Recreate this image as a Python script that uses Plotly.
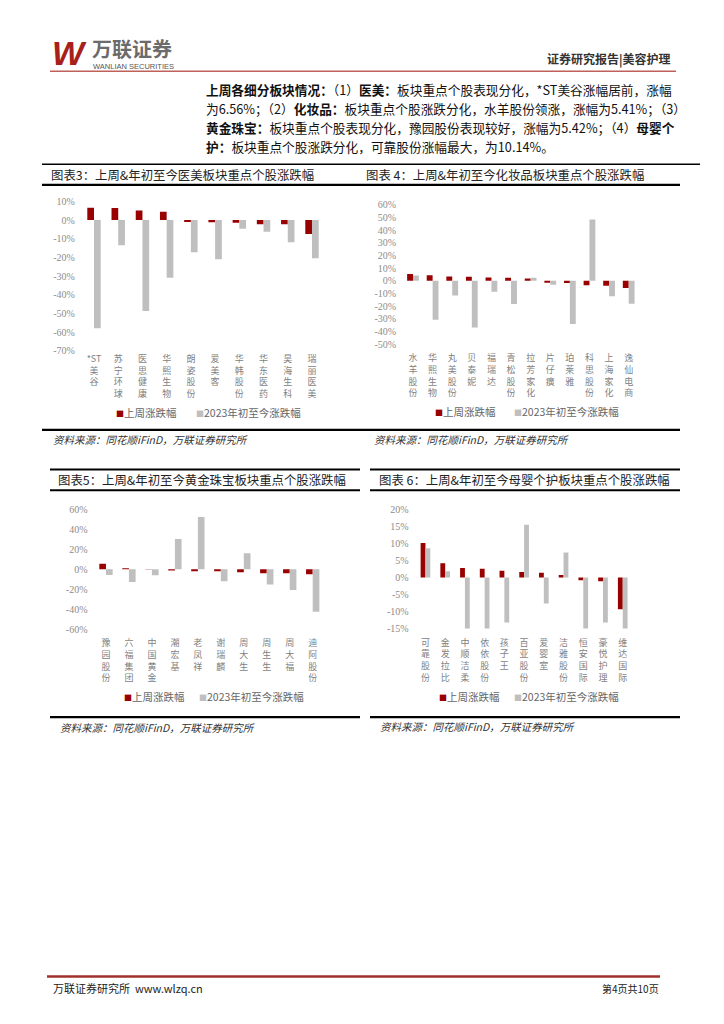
import plotly.graph_objects as go

W, H = 724, 1024


def px(x):
    return x / W


def py(y):
    return 1 - y / H


# ---------------- data ----------------
legend_week = "上周涨跌幅"
legend_ytd = "2023年初至今涨跌幅"

cat1 = ["*ST美谷", "苏宁环球", "医思健康", "华熙生物", "朗姿股份", "爱美客", "华韩股份", "华东医药", "昊海生科", "瑞丽医美"]
week1 = [6.56, 6.5, 5.1, 4.4, -1.0, -1.2, -1.5, -2.3, -2.3, -7.4]
ytd1 = [-57.9, -13.5, -48.6, -30.8, -17.2, -21.0, -4.7, -6.3, -11.9, -20.4]
yt1 = [10, 0, -10, -20, -30, -40, -50, -60, -70]

cat2 = ["水羊股份", "华熙生物", "丸美股份", "贝泰妮", "福瑞达", "青松股份", "拉芳家化", "片仔癀", "珀莱雅", "科思股份", "上海家化", "逸仙电商"]
week2 = [5.41, 4.4, 3.4, 3.1, 2.6, 2.3, 1.8, -1.6, -1.8, -3.6, -3.9, -5.7]
ytd2 = [4.2, -30.8, -11.7, -36.9, -8.6, -18.4, 2.3, -3.1, -34.0, 48.3, -12.2, -18.2]
yt2 = [60, 50, 40, 30, 20, 10, 0, -10, -20, -30, -40, -50]

cat3 = ["豫园股份", "六福集团", "中国黄金", "潮宏基", "老凤祥", "谢瑞麟", "周大生", "周生生", "周大福", "迪阿股份"]
week3 = [5.42, 1.0, 0.3, -1.3, -2.0, -2.0, -3.0, -4.0, -4.0, -5.0]
ytd3 = [-5.7, -12.7, -6.0, 30.3, 52.3, -12.0, 16.0, -15.3, -20.7, -42.7]
yt3 = [60, 40, 20, 0, -20, -40, -60]

cat4 = ["可靠股份", "金发拉比", "中顺洁柔", "依依股份", "孩子王", "百亚股份", "爱婴室", "洁雅股份", "恒安国际", "豪悦护理", "维达国际"]
week4 = [10.14, 4.2, 2.8, 2.6, 2.0, 1.6, 1.4, 0.7, -0.8, -1.1, -9.3]
ytd4 = [8.6, 1.8, -17.5, -16.0, -13.2, 15.5, -7.6, 7.3, -15.8, -13.2, -19.0]
yt4 = [20, 15, 10, 5, 0, -5, -10, -15]

titles = [
    "图表3：上周&年初至今医美板块重点个股涨跌幅",
    "图表 4：上周&年初至今化妆品板块重点个股涨跌幅",
    "图表5：上周&年初至今黄金珠宝板块重点个股涨跌幅",
    "图表 6：上周&年初至今母婴个护板块重点个股涨跌幅",
]
source = "资料来源：同花顺iFinD，万联证券研究所"

para = [
    "<b>上周各细分板块情况：</b>（1）<b>医美：</b>板块重点个股表现分化，*ST美谷涨幅居前，涨幅",
    "为6.56%；（2）<b>化妆品：</b>板块重点个股涨跌分化，水羊股份领涨，涨幅为5.41%；（3）",
    "<b>黄金珠宝：</b>板块重点个股表现分化，豫园股份表现较好，涨幅为5.42%；（4）<b>母婴个</b>",
    "<b>护：</b>板块重点个股涨跌分化，可靠股份涨幅最大，为10.14%。",
]

# ---------------- styling ----------------
RED = "#990000"
GREY = "#bfbfbf"
CJK = "Noto Sans CJK SC"
SERIF = "Liberation Serif"

charts = [
    # cats, week, ytd, yticks, x-domain px, y-domain px, bar width, x label standoff
    (cat1, week1, ytd1, yt1, (81.9, 324.1), (197.7, 349.0), 0.277, 1),
    (cat2, week2, ytd2, yt2, (403.2, 638.5), (201.0, 342.2), 0.30, 7),
    (cat3, week3, ytd3, yt3, (94.5, 324.2), (509.3, 630.5), 0.29, 7),
    (cat4, week4, ytd4, yt4, (415.6, 632.6), (509.3, 630.0), 0.245, 7),
]

fig = go.Figure()
layout = dict(
    width=W, height=H, margin=dict(l=0, r=0, t=0, b=0),
    paper_bgcolor="white", plot_bgcolor="white",
    showlegend=False, barmode="overlay",
    font=dict(family=CJK, color="#333"),
)


def vertical(name):
    if name.startswith("*"):
        return "*ST<br>" + "<br>".join(list(name[3:]))
    return "<br>".join(list(name))


for i, (cats, wk, yd, yt, xd, yd_px, bw, xso) in enumerate(charts, start=1):
    sfx = "" if i == 1 else str(i)
    fig.add_trace(go.Bar(x=cats, y=wk, name=legend_week, marker_color=RED,
                         width=bw, offset=-bw, xaxis="x" + sfx, yaxis="y" + sfx,
                         marker_line_width=0))
    fig.add_trace(go.Bar(x=cats, y=yd, name=legend_ytd, marker_color=GREY,
                         width=bw, offset=0, xaxis="x" + sfx, yaxis="y" + sfx,
                         marker_line_width=0))
    layout["xaxis" + sfx] = dict(
        domain=[px(xd[0]), px(xd[1])], anchor="y" + sfx,
        type="category", categoryorder="array", categoryarray=cats,
        tickvals=cats, ticktext=[vertical(c) for c in cats],
        tickfont=dict(family=CJK, size=9, color="#7f7f7f"),
        showgrid=False, zeroline=False, showline=False, ticks="",
        ticklabelstandoff=xso,
        tickangle=0, range=[-0.5, len(cats) - 0.5], fixedrange=True,
    )
    layout["yaxis" + sfx] = dict(
        domain=[py(yd_px[1]), py(yd_px[0])], anchor="x" + sfx,
        range=[min(yt), max(yt)], tickvals=yt, ticktext=[f"{v}%" for v in yt],
        tickfont=dict(family=SERIF, size=10, color="#8c8c8c"),
        showgrid=False, zeroline=False, showline=False, ticks="",
        ticklabelstandoff=6, fixedrange=True,
    )

fig.update_layout(**layout)

annotations = []
shapes = []


def ann(text, x, y, size, color="#222", xanchor="left", family=CJK):
    annotations.append(dict(text=text, x=px(x), y=py(y), xref="paper", yref="paper",
                            xanchor=xanchor, yanchor="middle", showarrow=False,
                            font=dict(size=size, color=color, family=family)))


def hline(x0, x1, y, width, color="#000"):
    shapes.append(dict(type="line", xref="paper", yref="paper", x0=px(x0), x1=px(x1),
                       y0=py(y), y1=py(y), line=dict(color=color, width=width)))


# header
ann("<b><i>W</i></b>", 50, 47.5, 34, "#a8201a", family="Liberation Sans")
ann("<b>万联证券</b>", 90, 43, 20, "#6b6b6b")
ann("WANLIAN SECURITIES", 91, 61, 7.5, "#555", family="Liberation Sans")
ann("<b>证券研究报告|美容护理</b>", 673, 54, 12, "#333", xanchor="right")
hline(50, 676, 66, 1.5, "#c0605a")

# paragraph
for k, line in enumerate(para):
    ann(line, 204, [84, 103.5, 123, 142.5][k], 12.7, "#111")

# table frame lines
hline(42, 700, 160, 1.5)
hline(42, 680, 181, 2.2)
hline(42, 680, 429, 2.2)
hline(50, 360, 469, 2.0)
hline(370, 680, 469, 2.0)
hline(50, 360, 490, 2.2)
hline(370, 680, 490, 2.2)
hline(50, 360, 719.5, 2.2)
hline(370, 680, 719.5, 2.2)

# titles
ann(titles[0], 49, 171, 12.4, "#222")
ann(titles[1], 364, 171, 12.4, "#222")
ann(titles[2], 56, 480, 12.4, "#222")
ann(titles[3], 377, 480, 12.4, "#222")

# legends
leg_pos = [((114, 194), 411), ((432.7, 512.3), 410.7), ((121.7, 197.3), 699), ((436.7, 512.3), 698.5)]
for (xr, xg), yy in leg_pos:
    ann(f"<span style='color:{RED};font-size:8px'>■</span>{legend_week}", xr, yy, 10.5, "#666")
    ann(f"<span style='color:{GREY};font-size:8px'>■</span>{legend_ytd}", xg, yy, 10.5, "#666")

# sources
for (x, y) in [(51, 439), (372, 439), (58, 730), (378, 729.5)]:
    ann(f"<i>{source}</i>", x, y, 10.5, "#333")

# footer
hline(47, 660, 982, 2.5, "#a0302a")
ann("万联证券研究所  www.wlzq.cn", 51, 994, 11, "#222")
ann("第4页共10页", 661, 994, 10, "#222", xanchor="right")

fig.update_layout(annotations=annotations, shapes=shapes)

fig.write_html("out.html", config={"displayModeBar": False, "staticPlot": True},
               post_script="document.body.style.margin='0';")
